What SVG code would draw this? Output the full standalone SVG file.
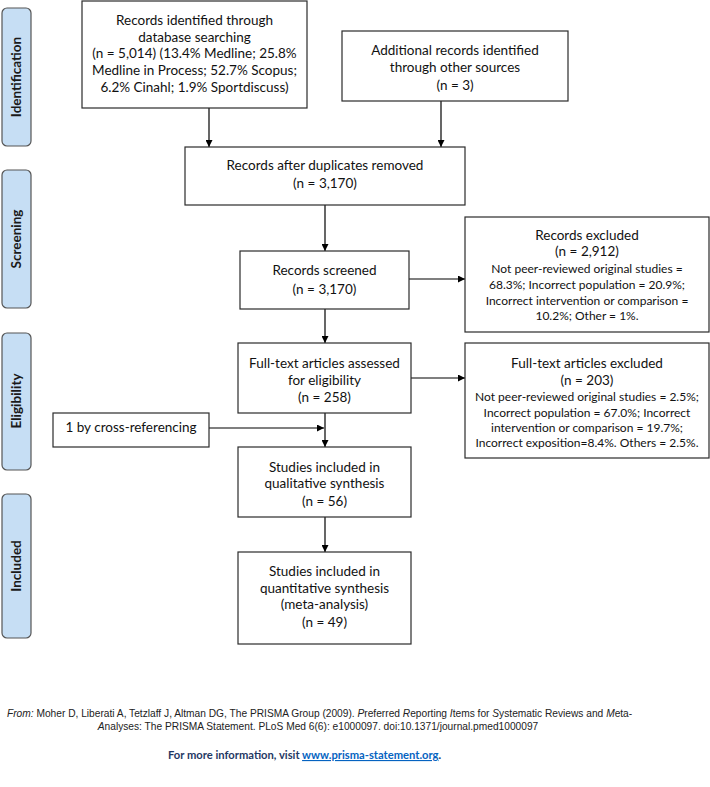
<svg xmlns="http://www.w3.org/2000/svg" width="710" height="787" viewBox="0 0 710 787">
<defs>
<marker id="ah" viewBox="0 0 10 10" refX="10" refY="5" markerWidth="7" markerHeight="7" markerUnits="userSpaceOnUse" orient="auto">
<path d="M0,0 L10,5 L0,10 z" fill="#000"/>
</marker>
</defs>
<style>
.box{fill:#fff;stroke:#2b2b2b;stroke-width:1.2}
.phase{fill:#c6def4;stroke:#555;stroke-width:1.2}
.t{font-family:Lato,"Open Sans",sans-serif;font-size:13.5px;fill:#111;text-anchor:middle}
.s{font-family:Lato,"Open Sans",sans-serif;font-size:12px;fill:#111;text-anchor:middle}
.ph{font-family:Lato,"Open Sans",sans-serif;font-size:13.5px;font-weight:bold;fill:#1a1a1a;text-anchor:middle}
.c{stroke:#000;stroke-width:1.2;fill:none}
.f{font-family:"Liberation Sans",Arial,sans-serif;font-size:10.2px;fill:#222}
.m{font-family:Lato,"Open Sans",sans-serif;font-size:11.2px;font-weight:bold}
</style>
<g id="phase-identification">
<rect class="phase" x="2" y="8" width="29" height="138" rx="5"/>
<text class="ph" transform="translate(21,77) rotate(-90)">Identification</text>
</g>
<g id="phase-screening">
<rect class="phase" x="2" y="170" width="29" height="138" rx="5"/>
<text class="ph" transform="translate(21,239) rotate(-90)">Screening</text>
</g>
<g id="phase-eligibility">
<rect class="phase" x="2" y="333" width="29" height="137" rx="5"/>
<text class="ph" transform="translate(21,401) rotate(-90)">Eligibility</text>
</g>
<g id="phase-included">
<rect class="phase" x="2" y="494" width="29" height="144" rx="5"/>
<text class="ph" transform="translate(21,566) rotate(-90)">Included</text>
</g>
<g id="connectors">
<line class="c" x1="209" y1="108" x2="209" y2="147" marker-end="url(#ah)"/>
<line class="c" x1="441" y1="101" x2="441" y2="147" marker-end="url(#ah)"/>
<line class="c" x1="325" y1="205" x2="325" y2="251" marker-end="url(#ah)"/>
<line class="c" x1="409" y1="279" x2="465" y2="279" marker-end="url(#ah)"/>
<line class="c" x1="325" y1="309" x2="325" y2="343" marker-end="url(#ah)"/>
<line class="c" x1="411" y1="378" x2="465" y2="378" marker-end="url(#ah)"/>
<line class="c" x1="325" y1="413" x2="325" y2="447" marker-end="url(#ah)"/>
<line class="c" x1="209" y1="428" x2="324" y2="428" marker-end="url(#ah)"/>
<line class="c" x1="325" y1="517" x2="325" y2="552" marker-end="url(#ah)"/>
</g>
<g id="n-db">
<rect class="box" x="82" y="1" width="225" height="107"/>
<text class="t" x="194.5" y="25">Records identified through</text>
<text class="t" x="194.5" y="42">database searching</text>
<text class="t" x="194.5" y="58">(n = 5,014) (13.4% Medline; 25.8%</text>
<text class="t" x="194.5" y="75">Medline in Process; 52.7% Scopus;</text>
<text class="t" x="194.5" y="92">6.2% Cinahl; 1.9% Sportdiscuss)</text>
</g>
<g id="n-other">
<rect class="box" x="342" y="31" width="226" height="70"/>
<text class="t" x="455" y="55">Additional records identified</text>
<text class="t" x="455" y="72">through other sources</text>
<text class="t" x="455" y="90">(n = 3)</text>
</g>
<g id="n-dup">
<rect class="box" x="185" y="147" width="280" height="58"/>
<text class="t" x="325" y="170">Records after duplicates removed</text>
<text class="t" x="325" y="188">(n = 3,170)</text>
</g>
<g id="n-screened">
<rect class="box" x="240" y="251" width="169" height="58"/>
<text class="t" x="324.5" y="275">Records screened</text>
<text class="t" x="324.5" y="294">(n = 3,170)</text>
</g>
<g id="n-excluded">
<rect class="box" x="465" y="217" width="244" height="115"/>
<text class="t" x="587" y="240">Records excluded</text>
<text class="t" x="587" y="256">(n = 2,912)</text>
<text class="s" x="587" y="273">Not peer-reviewed original studies =</text>
<text class="s" x="587" y="289">68.3%; Incorrect population = 20.9%;</text>
<text class="s" x="587" y="305">Incorrect intervention or comparison =</text>
<text class="s" x="587" y="320">10.2%; Other = 1%.</text>
</g>
<g id="n-fulltext">
<rect class="box" x="238" y="343" width="173" height="70"/>
<text class="t" x="324.5" y="368">Full-text articles assessed</text>
<text class="t" x="324.5" y="385">for eligibility</text>
<text class="t" x="324.5" y="402">(n = 258)</text>
</g>
<g id="n-ftexcluded">
<rect class="box" x="465" y="343" width="244" height="115"/>
<text class="t" x="587" y="368">Full-text articles excluded</text>
<text class="t" x="587" y="385">(n = 203)</text>
<text class="s" x="587" y="401">Not peer-reviewed original studies = 2.5%;</text>
<text class="s" x="587" y="417">Incorrect population = 67.0%; Incorrect</text>
<text class="s" x="587" y="432">intervention or comparison = 19.7%;</text>
<text class="s" x="587" y="447">Incorrect exposition=8.4%. Others = 2.5%.</text>
</g>
<g id="n-crossref">
<rect class="box" x="53" y="413" width="156" height="34"/>
<text class="t" x="131" y="432">1 by cross-referencing</text>
</g>
<g id="n-qual">
<rect class="box" x="238" y="447" width="173" height="70"/>
<text class="t" x="324.5" y="472">Studies included in</text>
<text class="t" x="324.5" y="488">qualitative synthesis</text>
<text class="t" x="324.5" y="506">(n = 56)</text>
</g>
<g id="n-quant">
<rect class="box" x="238" y="552" width="173" height="92"/>
<text class="t" x="324.5" y="576">Studies included in</text>
<text class="t" x="324.5" y="593">quantitative synthesis</text>
<text class="t" x="324.5" y="609">(meta-analysis)</text>
<text class="t" x="324.5" y="627">(n = 49)</text>
</g>
<g id="footer">
<text class="f" x="7" y="717"><tspan font-style="italic">From:</tspan>  Moher D, Liberati A, Tetzlaff J, Altman DG, The PRISMA Group (2009). <tspan font-style="italic">P</tspan>referred <tspan font-style="italic">R</tspan>eporting <tspan font-style="italic">I</tspan>tems for <tspan font-style="italic">S</tspan>ystematic Reviews and <tspan font-style="italic">M</tspan>eta-</text>
<text class="f" x="318" y="730" text-anchor="middle"><tspan font-style="italic">A</tspan>nalyses: The PRISMA Statement. PLoS Med 6(6): e1000097. doi:10.1371/journal.pmed1000097</text>
<text class="m" x="168" y="759"><tspan fill="#1f3864">For more information, visit </tspan><tspan fill="#0563c1" text-decoration="underline">www.prisma-statement.org</tspan><tspan fill="#1f3864">.</tspan></text>
</g>
</svg>
